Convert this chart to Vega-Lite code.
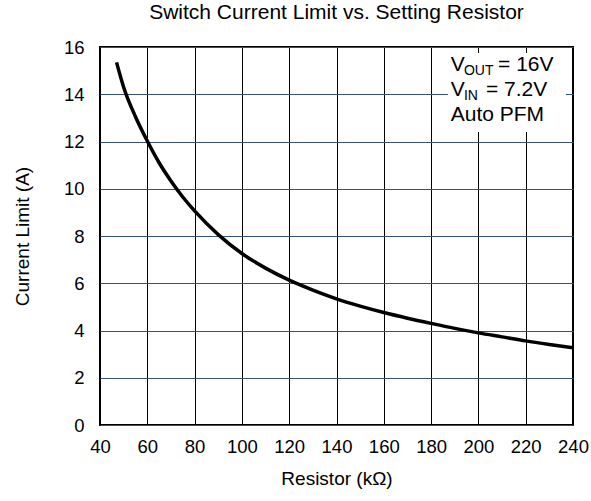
{
  "$schema": "https://vega.github.io/schema/vega-lite/v6.json",
  "width": 473,
  "height": 378,
  "autosize": {"type": "none"},
  "padding": {"left": 100, "top": 47, "right": 18, "bottom": 76},
  "background": "white",
  "title": {"text": "Switch Current Limit vs. Setting Resistor", "font": "Liberation Sans", "fontSize": 21, "fontWeight": "normal", "color": "black", "offset": 15, "anchor": "middle"},
  "config": {
    "font": "Liberation Sans",
    "view": {"stroke": "black", "strokeWidth": 2},
    "axis": {"domain": false, "ticks": false, "labelFlush": false, "labelOverlap": false, "labelFont": "Liberation Sans", "labelFontSize": 18.5, "labelColor": "black", "titleFont": "Liberation Sans", "titleFontSize": 19, "titleFontWeight": "normal", "titleColor": "black", "gridOpacity": 1, "gridWidth": 1}
  },
  "datasets": {
    "curve": [
      {"r": 47, "i": 15.35},
      {"r": 50, "i": 14.3},
      {"r": 55, "i": 13.05},
      {"r": 60, "i": 12.02},
      {"r": 65, "i": 11.1},
      {"r": 70, "i": 10.33},
      {"r": 75, "i": 9.65},
      {"r": 80, "i": 9.06},
      {"r": 90, "i": 8.06},
      {"r": 100, "i": 7.26},
      {"r": 110, "i": 6.64},
      {"r": 120, "i": 6.13},
      {"r": 130, "i": 5.71},
      {"r": 140, "i": 5.34},
      {"r": 150, "i": 5.03},
      {"r": 160, "i": 4.76},
      {"r": 170, "i": 4.52},
      {"r": 180, "i": 4.3},
      {"r": 190, "i": 4.09},
      {"r": 200, "i": 3.9},
      {"r": 210, "i": 3.73},
      {"r": 220, "i": 3.56},
      {"r": 230, "i": 3.41},
      {"r": 240, "i": 3.27}
    ],
    "box": [{"x1": 187.1, "x2": 237, "y1": 15.75, "y2": 12.4}],
    "main": [
      {"x": 188.3, "y": 14.98, "t": "V"},
      {"x": 208.3, "y": 14.98, "t": "= 16V"},
      {"x": 188.3, "y": 13.93, "t": "V"},
      {"x": 203.2, "y": 13.93, "t": "= 7.2V"},
      {"x": 188.3, "y": 12.85, "t": "Auto PFM"}
    ],
    "sub": [
      {"x": 193.9, "y": 14.81, "t": "OUT"},
      {"x": 193.9, "y": 13.76, "t": "IN"}
    ]
  },
  "layer": [
    {
      "data": {"name": "curve"},
      "mark": {"type": "line", "color": "black", "strokeWidth": 3.5, "interpolate": "monotone", "clip": true},
      "encoding": {
        "x": {"field": "r", "type": "quantitative", "scale": {"domain": [40, 240], "nice": false, "zero": false},
              "axis": {"values": [40,60,80,100,120,140,160,180,200,220,240], "title": "Resistor (kΩ)", "labelPadding": 12, "titleY": 53, "titleBaseline": "middle", "grid": true, "gridColor": "black"}},
        "y": {"field": "i", "type": "quantitative", "scale": {"domain": [0, 16], "nice": false},
              "axis": {"values": [0,2,4,6,8,10,12,14,16], "title": "Current Limit (A)", "labelPadding": 16, "titleX": -78, "titleY": 189, "titleBaseline": "middle", "titleAngle": -90, "grid": true, "gridColor": "#34507a"}}
      }
    },
    {
      "data": {"name": "box"},
      "mark": {"type": "rect", "color": "white", "opacity": 1},
      "encoding": {
        "x": {"field": "x1", "type": "quantitative"},
        "x2": {"field": "x2"},
        "y": {"field": "y1", "type": "quantitative"},
        "y2": {"field": "y2"}
      }
    },
    {
      "data": {"name": "main"},
      "mark": {"type": "text", "align": "left", "baseline": "alphabetic", "fontSize": 21, "font": "Liberation Sans", "color": "black"},
      "encoding": {
        "x": {"field": "x", "type": "quantitative"},
        "y": {"field": "y", "type": "quantitative"},
        "text": {"field": "t"}
      }
    },
    {
      "data": {"name": "sub"},
      "mark": {"type": "text", "align": "left", "baseline": "alphabetic", "fontSize": 14, "font": "Liberation Sans", "color": "black"},
      "encoding": {
        "x": {"field": "x", "type": "quantitative"},
        "y": {"field": "y", "type": "quantitative"},
        "text": {"field": "t"}
      }
    }
  ]
}
